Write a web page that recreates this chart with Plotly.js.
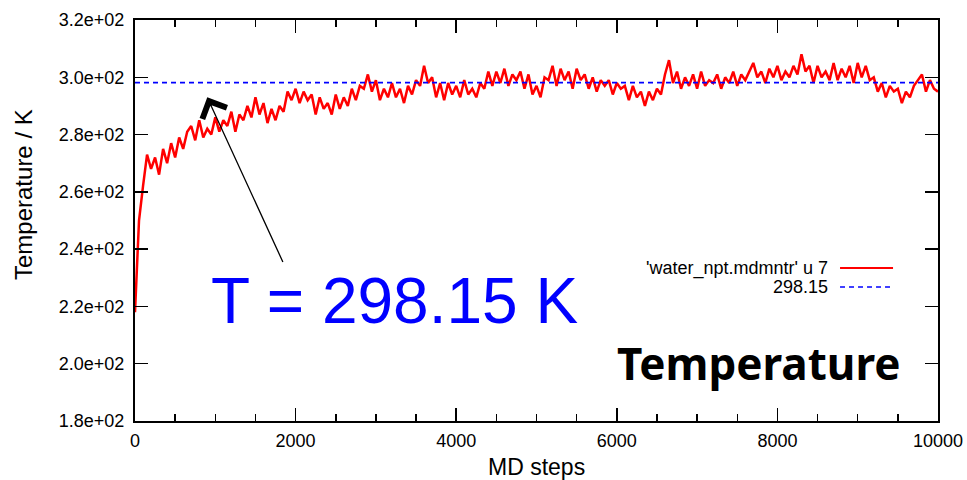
<!DOCTYPE html>
<html>
<head>
<meta charset="utf-8">
<script src="https://cdn.plot.ly/plotly-3.0.1.min.js"></script>
<style>html,body{margin:0;padding:0;background:#fff}#chart{width:967px;height:480px}</style>
</head>
<body>
<div id="chart"></div>
<script>
// MD step spacing of the sampled temperature trace
const stepSize = 50;
// Temperature (K), one value every 50 MD steps (0..10000)
const temperature = [
218,250,262,273,268,272,266,275,270,277,
272,279,275,281,283,278,285,279,282,280,
286,281,285,283,288,281,287,285,290,286,
293,287,291,284,289,285,290,288,295,292,
296,291,295,292,294,287,293,289,291,287,
294,289,293,290,296,292,297,296,301,295,
299,292,296,293,298,293,296,291,297,294,
299,297,304,298,300,293,298,292,298,294,
297,293,299,294,296,293,298,296,302,297,
302,298,303,297,301,299,302,296,301,294,
297,293,300,299,304,297,303,299,302,296,
303,299,301,296,300,295,299,297,299,294,
298,296,297,292,297,293,295,290,295,292,
296,294,301,306,298,302,296,300,297,301,
296,302,297,299,298,301,296,300,298,302,
297,301,299,302,305,300,302,298,303,300,
304,299,302,300,304,301,308,302,304,298,
304,300,302,299,305,299,303,300,304,298,
305,300,304,299,300,295,298,293,297,295,
296,291,295,293,297,299,301,295,299,296,
295
];
const mdSteps = temperature.map((_, i) => i * stepSize);
// Reference temperature line
const refT = 298.15;
const refX = [0, 10000];
const refY = [refT, refT];
// Axis ticks
const yTickVals = [180, 200, 220, 240, 260, 280, 300, 320];
const yTickText = ['1.8e+02','2.0e+02','2.2e+02','2.4e+02','2.6e+02','2.8e+02','3.0e+02','3.2e+02'];
const xTickVals = [0, 2000, 4000, 6000, 8000, 10000];
const xTickText = ['0','2000','4000','6000','8000','10000'];
// Labels
const legendLabels = ["'water_npt.mdmntr' u 7", "298.15"];
const xTitle = 'MD steps';
const yTitle = 'Temperature / K';
const bigLabel = 'T = 298.15 K';
const cornerTitle = 'Temperature';
// Arrow (data coords): tail -> tip
const arrowTail = [1850, 235];
const arrowTip = [900, 293];

const sans = 'Liberation Sans, Arial, sans-serif';
const tickFont = {family: sans, size: 18, color: '#000'};

const traces = [
  {x: mdSteps, y: temperature, type: 'scatter', mode: 'lines',
   line: {color: '#ff0000', width: 2.5}, hoverinfo: 'skip', showlegend: false},
  {x: refX, y: refY, type: 'scatter', mode: 'lines',
   line: {color: '#0000ff', width: 1.6, dash: '5px,4px'}, hoverinfo: 'skip', showlegend: false}
];

const layout = {
  width: 967, height: 480,
  margin: {l: 135, r: 29, t: 20, b: 59},
  paper_bgcolor: '#fff', plot_bgcolor: '#fff',
  showlegend: false,
  xaxis: {
    range: [0, 10000], tickvals: xTickVals, ticktext: xTickText,
    ticks: 'inside', ticklen: 13, tickwidth: 1.5, tickcolor: '#000',
    minor: {dtick: 500, ticks: 'inside', ticklen: 7, tickwidth: 1.5, tickcolor: '#000'},
    showline: true, linewidth: 2, linecolor: '#000', mirror: 'ticks',
    showgrid: false, zeroline: false, tickfont: tickFont, ticklabelstandoff: 2
  },
  yaxis: {
    range: [180, 320], tickvals: yTickVals, ticktext: yTickText,
    ticks: 'inside', ticklen: 13, tickwidth: 1.5, tickcolor: '#000',
    showline: true, linewidth: 2, linecolor: '#000', mirror: 'ticks',
    showgrid: false, zeroline: false, tickfont: tickFont, ticklabelstandoff: 5
  },
  annotations: [
    {x: arrowTip[0], y: arrowTip[1], ax: arrowTail[0], ay: arrowTail[1], xref: 'x', yref: 'y', axref: 'x', ayref: 'y',
     text: '', showarrow: true, arrowhead: 4, arrowsize: 4, arrowwidth: 1.3, arrowcolor: '#000'},
    {x: 0.5006, y: -0.1147, xref: 'paper', yref: 'paper', xanchor: 'center', yanchor: 'middle', showarrow: false,
     text: xTitle, font: {family: sans, size: 23, color: '#000'}},
    {x: -0.1395, y: 0.566, xref: 'paper', yref: 'paper', xanchor: 'center', yanchor: 'middle', showarrow: false,
     textangle: -90, text: yTitle, font: {family: sans, size: 24, color: '#000'}},
    {x: 0.323, y: 0.30, xref: 'paper', yref: 'paper', xanchor: 'center', yanchor: 'middle', showarrow: false,
     text: bigLabel, font: {family: sans, size: 64, color: '#0000ff'}},
    {x: 0.777, y: 0.145, xref: 'paper', yref: 'paper', xanchor: 'center', yanchor: 'middle', showarrow: false,
     text: '<b>' + cornerTitle + '</b>', font: {family: 'Noto Sans, sans-serif', size: 44, color: '#000'}},
    {x: 0.8655, y: 0.3815, xref: 'paper', yref: 'paper', xanchor: 'right', yanchor: 'middle', showarrow: false,
     text: legendLabels[0], font: {family: sans, size: 18, color: '#000'}},
    {x: 0.8655, y: 0.334, xref: 'paper', yref: 'paper', xanchor: 'right', yanchor: 'middle', showarrow: false,
     text: legendLabels[1], font: {family: sans, size: 18, color: '#000'}}
  ],
  shapes: [
    {type: 'line', xref: 'paper', yref: 'paper', x0: 0.878, x1: 0.944, y0: 0.3815, y1: 0.3815, line: {color: '#ff0000', width: 2}},
    {type: 'line', xref: 'paper', yref: 'paper', x0: 0.878, x1: 0.944, y0: 0.334, y1: 0.334, line: {color: '#0000ff', width: 1.6, dash: '5px,4px'}}
  ]
};

Plotly.newPlot('chart', traces, layout, {staticPlot: true, displayModeBar: false});
</script>
</body>
</html>
